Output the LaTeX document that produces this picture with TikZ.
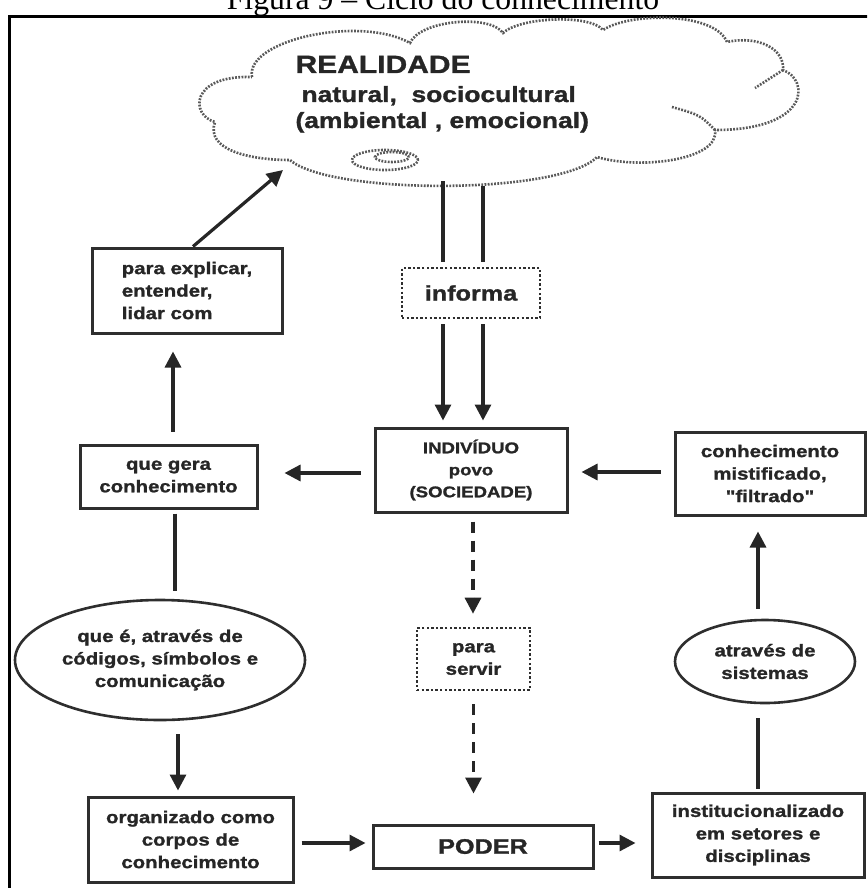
\documentclass[tikz,border=0pt]{standalone}
\usepackage{fontspec}
\setmainfont{Liberation Serif}
\newfontfamily\dfont[FakeStretch=1.2,FakeBold=1.3]{Liberation Sans}
\usetikzlibrary{arrows.meta,shapes.geometric,calc}
\begin{document}
\begin{tikzpicture}[x=1pt,y=-1pt,
  txt/.style={font=\dfont\bfseries\fontsize{17}{22.5}\selectfont, text=black!85},
  box/.style={txt, draw=black!82, line width=3pt, align=center, inner sep=0pt},
  dotbox/.style={box, line width=2.6pt, dash pattern=on 2.4pt off 2.2pt},
  ell/.style={txt, ellipse, draw=black!82, line width=2.6pt, align=center, inner sep=0pt},
  ln/.style={line width=3.2pt, draw=black!85},
  arr/.style={ln, -{Triangle[length=16pt,width=16pt]}},
  dsh/.style={arr, dash pattern=on 11pt off 8pt},
  cloudline/.style={draw=black!65, line width=2.6pt, dash pattern=on 1.8pt off 1.4pt}]
\useasboundingbox (0,0) rectangle (867,888);
\clip (0,0) rectangle (867,888);
\fill[white] (0,0) rectangle (867,888);

% title (cut by the top edge, as in the reference)
\node[anchor=base, font=\fontsize{31.7}{36}\selectfont] (title) at (443,10) {Figura 9 – Ciclo do conhecimento};
% outer frame
\draw[line width=3pt] (9,900) -- (9,17) -- (880,17);

% cloud
\draw[cloudline] (252,77) .. controls (245,40) and (360,15) .. (410,43)
  .. controls (420,20) and (490,14) .. (503,33)
  .. controls (520,17) and (590,14) .. (603,30)
  .. controls (630,12) and (715,12) .. (727,42)
  .. controls (760,35) and (785,50) .. (783,70)
  .. controls (810,80) and (810,130) .. (715,130)
  .. controls (720,160) and (640,170) .. (597,157)
  .. controls (560,195) and (330,195) .. (290,160)
  .. controls (250,160) and (205,150) .. (215,122)
  .. controls (190,115) and (190,75) .. cycle;
\draw[cloudline] (715,130) .. controls (700,115) .. (672,107);
\draw[cloudline] (783,70) -- (755,88);
\draw[cloudline] (385,160) ellipse [x radius=33pt, y radius=10pt];
\draw[cloudline] (392,157) ellipse [x radius=17pt, y radius=5pt];
\node[txt, anchor=base west, font=\dfont\bfseries\fontsize{25}{30}\selectfont] (real) at (292,73) {REALIDADE};
\node[txt, anchor=base west, font=\dfont\bfseries\fontsize{22}{26}\selectfont] (nat) at (298,102) {natural,\ \ sociocultural};
\node[txt, anchor=base west, font=\dfont\bfseries\fontsize{22}{26}\selectfont] (amb) at (292,128) {(ambiental , emocional)};
\coordinate (cA) at (283,170);
\coordinate (cB1) at (443,181);
\coordinate (cB2) at (483,186);

% nodes
\node[box, minimum width=190pt, minimum height=85pt, align=left] (explicar) at (187,290.5) {para explicar,\\entender,\\lidar com};
\node[box, minimum width=177pt, minimum height=63pt] (quegera) at (168.5,476.5) {que gera\\conhecimento};
\node[ell, minimum width=290pt, minimum height=120pt] (elL) at (160,660) {que é, através de\\códigos, símbolos e\\comunicação};
\node[box, minimum width=205pt, minimum height=85pt] (organ) at (190.5,839.5) {organizado como\\corpos de\\conhecimento};
\node[dotbox, minimum width=138pt, minimum height=50pt, font=\dfont\bfseries\fontsize{21}{24}\selectfont] (informa) at (471,293) {informa};
\node[box, minimum width=192pt, minimum height=84pt, font=\dfont\bfseries\fontsize{15.5}{22}\selectfont] (indiv) at (471,470) {INDIVÍDUO\\povo\\(SOCIEDADE)};
\node[dotbox, minimum width=113pt, minimum height=62pt] (servir) at (473.5,659) {para\\servir};
\node[box, minimum width=220pt, minimum height=43pt, font=\dfont\bfseries\fontsize{21}{24}\selectfont] (poder) at (483,846.5) {PODER};
\node[box, minimum width=190pt, minimum height=83pt] (mist) at (770,473.5) {conhecimento\\mistificado,\\"filtrado"};
\node[ell, minimum width=180pt, minimum height=83pt] (elR) at (765,661.5) {através de\\sistemas};
\node[box, minimum width=212pt, minimum height=84pt] (inst) at (758,835) {institucionalizado\\em setores e\\disciplinas};

\coordinate (pw) at ([yshift=3.5pt]poder.west);
\coordinate (pe) at ([yshift=3.5pt]poder.east);

% connectors
\draw[arr] ([xshift=6pt]explicar.north) -- (cA);
\draw[arr, shorten <=12pt, shorten >=17pt] ([xshift=4.5pt]quegera.north) -- ([xshift=4.5pt]quegera.north |- explicar.south);
\draw[ln, shorten <=4pt, shorten >=8pt] ([xshift=6.5pt]quegera.south) -- ([xshift=6.5pt]quegera.south |- elL.north);
\draw[arr, shorten <=13pt, shorten >=5pt] ([xshift=18pt]elL.south) -- ([xshift=18pt]elL.south |- organ.north);
\draw[arr, shorten <=7pt, shorten >=6pt] (organ.east |- pw) -- (pw);
\draw[arr, shorten <=4pt, shorten >=15pt] (pe) -- (pe -| inst.west);
\draw[ln, shorten <=3pt, shorten >=14pt] (inst.north) -- (inst.north |- elR.south);
\draw[arr, shorten <=10pt, shorten >=15pt] ([xshift=-7pt]elR.north) -- ([xshift=-7pt]elR.north |- mist.south);
\draw[arr, shorten <=13pt, shorten >=13pt] ([yshift=1.5pt]mist.west) -- ([yshift=1.5pt]mist.west -| indiv.east);
\draw[arr, shorten <=13pt, shorten >=26pt] ([yshift=-3pt]indiv.west) -- ([yshift=-3pt]indiv.west -| quegera.east);
\draw[ln, shorten >=5pt] (cB1) -- (cB1 |- informa.north);
\draw[ln, shorten >=5pt] (cB2) -- (cB2 |- informa.north);
\draw[arr, shorten <=5pt, shorten >=6pt] (cB1 |- informa.south) -- (cB1 |- indiv.north);
\draw[arr, shorten <=5pt, shorten >=6pt] (cB2 |- informa.south) -- (cB2 |- indiv.north);
\draw[dsh, shorten <=8pt, shorten >=13pt] ([xshift=2pt]indiv.south) -- ([xshift=2pt]indiv.south |- servir.north);
\draw[dsh, shorten <=13pt, shorten >=30pt] (servir.south) -- (servir.south |- poder.north);
\end{tikzpicture}
\end{document}
